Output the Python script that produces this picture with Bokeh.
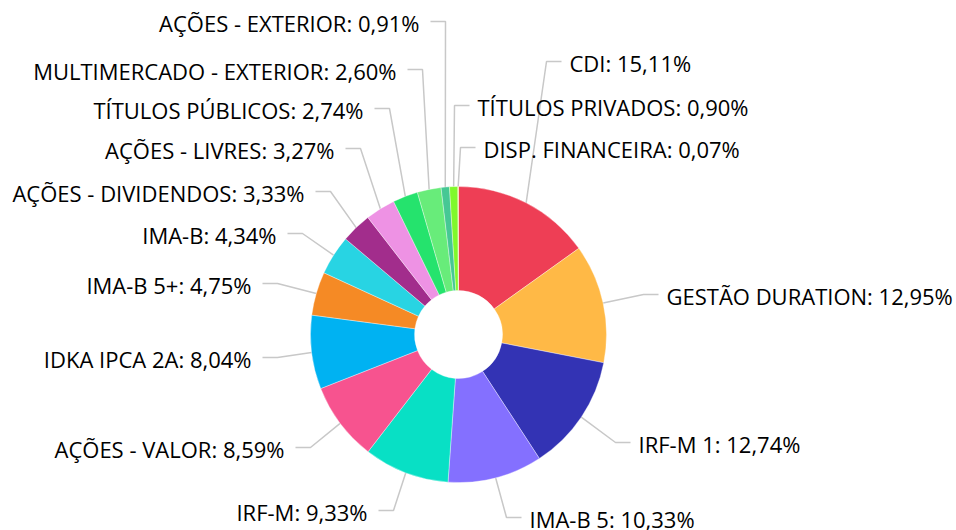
import math
from bokeh.plotting import figure
from bokeh.models import Range1d, ColumnDataSource
from bokeh.core.properties import value
from bokeh.embed import file_html
from bokeh.resources import INLINE

# ---- data ----
categories = ["CDI", "GESTÃO DURATION", "IRF-M 1", "IMA-B 5", "IRF-M", "AÇÕES - VALOR",
              "IDKA IPCA 2A", "IMA-B 5+", "IMA-B", "AÇÕES - DIVIDENDOS", "AÇÕES - LIVRES",
              "TÍTULOS PÚBLICOS", "MULTIMERCADO - EXTERIOR", "AÇÕES - EXTERIOR",
              "TÍTULOS PRIVADOS", "DISP. FINANCEIRA"]
values = [15.11, 12.95, 12.74, 10.33, 9.33, 8.59, 8.04, 4.75, 4.34, 3.33, 3.27,
          2.74, 2.60, 0.91, 0.90, 0.07]
colors = ["#EE3E55", "#FFB946", "#3333B4", "#8470FF", "#08E0C5", "#F7538F",
          "#00B2F2", "#F58A25", "#28D4E3", "#A22D8C", "#EE92E4",
          "#25E36D", "#68EC7A", "#46C894", "#80F92B", "#F5D020"]

# ---- label layout (pixels from top-left of the page) ----
label_side = ["R", "R", "R", "R", "L", "L", "L", "L", "L", "L", "L", "L", "L", "L", "R", "R"]
label_y = [65, 298, 446, 521, 514, 451, 361, 287, 237, 195, 152, 112, 73, 25, 109, 151]
bend_x = [546, 643, 615, 506, 393, 310, 277, 277, 302, 330, 360, 389, 422, 445, 454, 460]

W, H = 956, 530
CX, CY = 458, 334
R_OUT, R_IN = 148, 44
SEG, LINE_OFF, TEXT_SHIFT = 15, 4, 2.5
GAP = {"R": 8, "L": 11}
FS = "22px"


def fmt(v):
    return f"{v:.2f}".replace(".", ",") + "%"


total = sum(values)
starts, ends, mids = [], [], []
acc = 0.0
for v in values:
    f0 = acc / total
    acc += v
    f1 = acc / total
    starts.append(math.pi / 2 - 2 * math.pi * f0)
    ends.append(math.pi / 2 - 2 * math.pi * f1)
    mids.append(2 * math.pi * (f0 + f1) / 2)

cy_data = H - CY
wedges = ColumnDataSource(dict(x=[CX] * len(values), y=[cy_data] * len(values),
                               start=starts, end=ends, color=colors))

p = figure(width=W, height=H, x_range=Range1d(0, W), y_range=Range1d(0, H),
           output_backend="svg", toolbar_location=None, min_border=0,
           x_axis_location=None, y_axis_location=None)
p.grid.visible = False
p.outline_line_color = None
p.background_fill_color = "white"
p.border_fill_color = "white"

# leader lines
xs, ys = [], []
tx, ty, txt, align = [], [], [], []
for i, (name, v) in enumerate(zip(categories, values)):
    ex = CX + R_OUT * math.sin(mids[i])
    ey = cy_data + R_OUT * math.cos(mids[i])
    ly = H - (label_y[i] - LINE_OFF)
    side = label_side[i]
    sgn = 1 if side == "R" else -1
    endx = bend_x[i] + sgn * SEG
    xs.append([ex, bend_x[i], endx])
    ys.append([ey, ly, ly])
    tx.append(endx + sgn * GAP[side])
    ty.append(H - (label_y[i] - TEXT_SHIFT))
    txt.append(f"{name}: {fmt(v)}")
    align.append("left" if sgn == 1 else "right")

p.multi_line(xs=xs, ys=ys, line_color="#C8C8C8", line_width=1.5)

p.annular_wedge(x="x", y="y", inner_radius=R_IN, outer_radius=R_OUT,
                start_angle="start", end_angle="end", direction="clock",
                fill_color="color", line_color="white", line_width=0.6, line_alpha=0.6,
                source=wedges)

labels = ColumnDataSource(dict(x=tx, y=ty, text=txt, align=align))
p.text(x="x", y="y", text="text", text_align="align", text_baseline="middle",
       text_font=value("Open Sans"), text_font_size=FS, text_color="#000000",
       source=labels)

open("out.html", "w").write(file_html(p, INLINE))
